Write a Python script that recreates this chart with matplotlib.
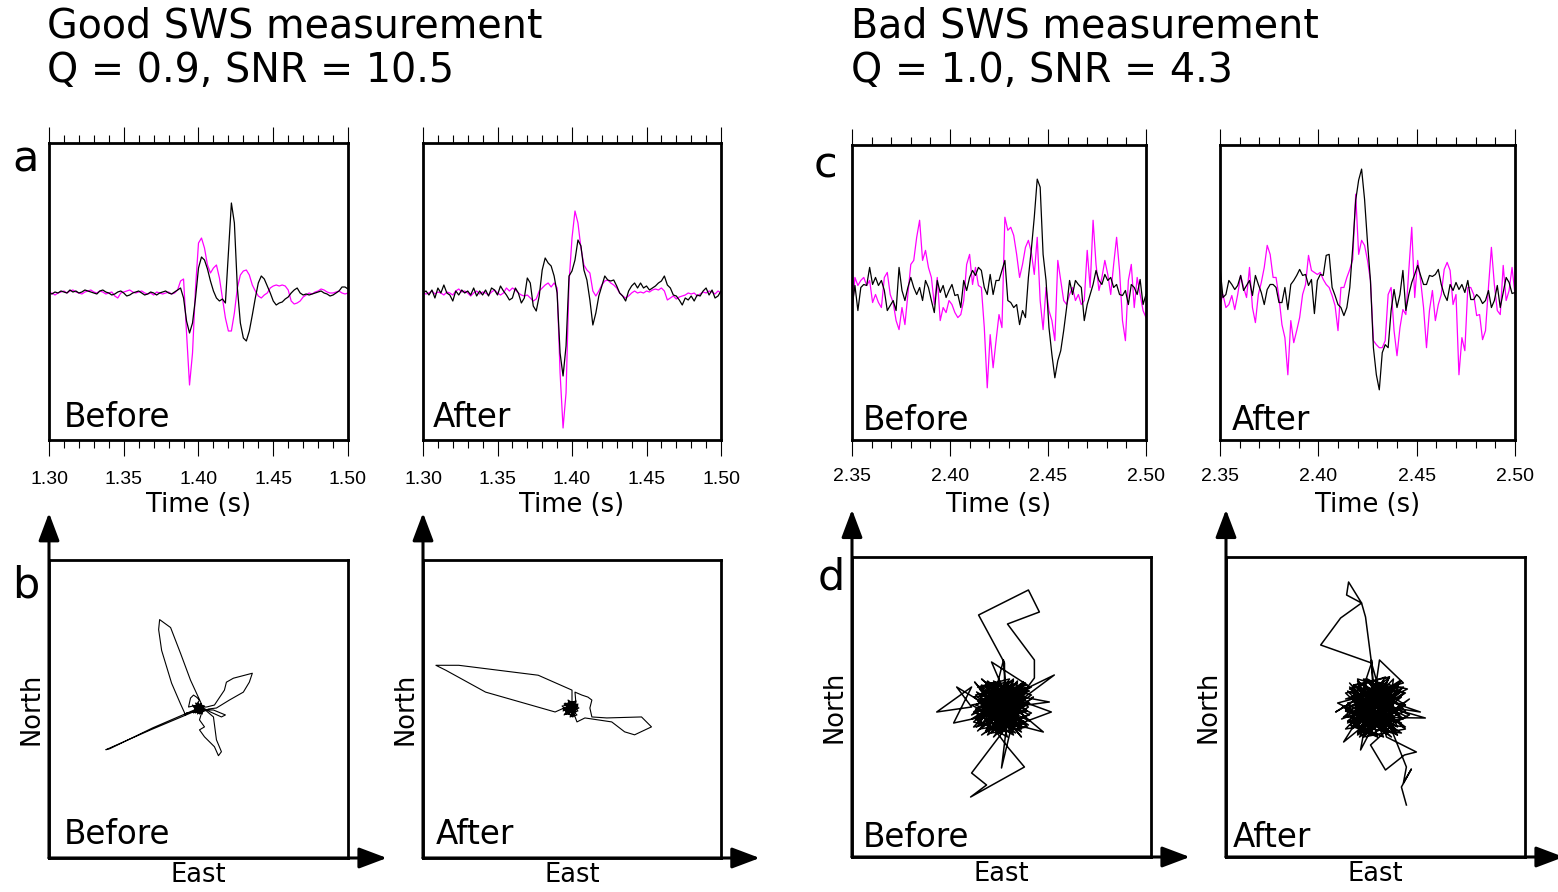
import numpy as np
import matplotlib
matplotlib.use("Agg")
import matplotlib.pyplot as plt
from matplotlib.ticker import MultipleLocator

# ---------------- data ----------------
# good measurement, 2 ms samples from 1.30 to 1.50 s (amplitudes in counts)
time_good = np.linspace(1.30, 1.50, 101)
good_before_fast = [-1, 0, -2, 0, 1, 2, 0, 2, 3, 1, 0, -1, 1, 2, 3, 1, 0, 2, 1, -1,
                    0, 1, -3, -5, 0, 1, 2, 3, 1, 0, 1, 2, 0, -1, 0, -2, 1, 0, -1, 0,
                    1, -1, 0, 3, 12, 14, -40, -92, -60, 5, 50, 55, 45, 28, 20, 25, 28, 15, -5, -25,
                    -38, -38, -20, 5, 18, 22, 23, 18, 8, 2, -3, -5, -2, 0, 5, 7, 8, 7, 8, 7,
                    3, -8, -11, -10, -8, -4, -2, 0, -1, 1, 2, 4, 3, 1, 0, 0, 1, 2, 0, -1, 0]
good_before_slow = [0, -1, 1, 0, 2, 1, 0, 3, 1, 2, 0, 1, 3, 2, 1, 0, -1, 2, 3, 1,
                    0, -2, -1, 1, 2, 0, -3, -2, 0, 1, 2, 0, -2, -1, 1, 0, -2, 0, 1, 2,
                    0, -1, 1, 3, 5, -5, -28, -40, -30, -5, 25, 36, 33, 24, 12, 2, -5, -8, -6, -10,
                    40, 90, 70, 5, -30, -45, -48, -38, -22, -5, 10, 17, 14, 7, 0, -8, -12, -10, -9, -6,
                    -4, 0, 3, 5, 0, -2, -1, -2, -1, 0, 1, 2, 0, -1, -3, -2, 0, 2, 6, 6, 4]
good_after_fast = [0, -1, 0, 2, -1, 1, 0, -2, 1, 0, -2, 2, 4, 1, 2, 0, -3, 0, 2, -1,
                   1, 0, -2, 1, 3, 0, -2, 0, 5, 2, 5, 3, 0, -2, -3, -2, -5, -8, -6, 2,
                   5, 8, 10, 6, 10, 5, -80, -135, -100, 10, 55, 82, 70, 45, 28, 23, 20, 2, -3, 2,
                   8, 12, 13, 10, 8, 5, 0, -3, -5, -3, 0, 2, 0, 1, 0, 2, 1, 3, 4, 3,
                   5, 2, -7, -5, -3, -6, -4, -3, -2, 0, -1, 0, -3, -1, 1, 0, 2, 1, -1, 2, 0]
good_after_slow = [0, 2, -2, 3, -5, 5, 0, 8, 0, -2, -8, 2, -2, 3, 0, 2, -2, 5, -3, 2,
                   -2, 3, -3, 5, 3, -2, 7, 2, -2, -7, -5, 5, 0, -10, -5, 15, 10, -13, -18, -3,
                   23, 35, 30, 27, 17, 0, -60, -83, -53, 17, 22, 33, 53, 47, 23, 13, -7, -32, -20, -3,
                   7, 17, 13, 12, 13, 7, 0, -3, -8, 2, 7, 10, 5, 10, 5, 7, 3, 5, 7, 10,
                   12, 17, 8, 5, -2, -3, -7, -12, -5, -7, -3, -8, -2, -3, 2, 5, -2, 3, -5, -3, 2]

# bad measurement, 1.5 ms samples from 2.35 to 2.50 s
time_bad = np.linspace(2.35, 2.50, 101)
bad_before_fast = [-19, 16, 8, 13, 16, 8, 13, -9, -1, -9, -14, 16, 21, -1, -9, -27, -36, -14, -31, -1,
                   29, 33, 56, 73, 33, 43, 26, 16, -11, 16, -27, -14, -19, -7, -11, -19, -24, -21, -7, 29,
                   39, 9, 26, 8, 6, -34, -94, -41, -74, -47, -21, -34, 76, 63, 66, 58, 39, 16, 29, 46,
                   53, 41, 19, 56, -7, -36, 6, -17, -27, -47, 33, 13, -7, -11, -1, 6, -7, -1, -11, -7,
                   43, 6, 73, 29, 3, 16, 33, 19, -1, 29, 56, 23, -27, -47, 13, 29, -14, 16, -1, -17, -24]
bad_before_slow = [-14, 8, -17, 6, 9, 8, 26, 9, 16, 8, 13, 3, -17, -12, -7, -17, 26, 3, -7, 6,
                   16, 6, -1, 6, -7, 13, 6, -7, -19, 13, 1, 8, -4, 3, 9, -2, -1, -14, 13, 3,
                   16, 23, 18, 26, 23, 6, -1, 19, -1, 13, 13, 23, 33, -7, -9, -14, -11, -31, -17, -24,
                   16, 44, 76, 114, 106, 39, 13, -34, -61, -84, -67, -57, -37, -14, 13, -1, 13, 9, 6, -27,
                   -11, -1, 9, 23, 13, 9, 19, 13, 16, 6, 9, -1, -2, 3, -11, 9, 6, -1, 14, -11, -1]
bad_after_fast = [-12, -2, -15, -12, -3, -17, -2, 17, 5, -5, 25, -15, -30, -2, 10, 25, 47, 38, 15, 15,
                  -5, -32, -45, -82, -28, -50, -38, -25, -2, 8, 37, 22, 20, 18, 20, 13, 8, 5, -3, -13,
                  -38, 5, 5, 15, 23, 33, 98, 38, 52, 47, 32, 12, -48, -52, -55, -55, -48, -2, 5, -38,
                  -63, -35, -17, -22, 22, 65, -5, 32, 12, -15, -55, -18, 2, -28, -12, -2, 23, 30, 22, -12,
                  -2, -82, -45, -58, 5, 5, -2, -23, -22, -47, -38, 5, 45, 8, -18, -22, 27, -8, 2, 25, -2]
bad_after_slow = [25, -5, -2, 12, 8, 3, 7, 17, 2, 7, 12, -3, 17, 8, 0, -12, 3, 8, 8, 5,
                  -10, -10, 5, -17, 8, 12, 17, 23, 17, 18, 7, 13, -21, 12, 18, 17, 37, 38, 5, -3,
                  -12, -15, -23, -15, 5, 45, 92, 112, 123, 93, 50, 12, -55, -82, -97, -60, -52, -55, -18, 3,
                  -15, -2, 22, -18, -2, 10, 18, 27, 17, 8, 8, 17, 16, 18, 23, 8, -2, -8, 8, 2,
                  10, 3, 8, 0, 12, -7, -7, -2, -5, -11, -8, 2, -15, -8, 7, -15, 0, 15, 10, -1, 0]

ticks_good = [1.30, 1.35, 1.40, 1.45, 1.50]
ticks_bad = [2.35, 2.40, 2.45, 2.50]

# particle motion (east, north) pairs
pm_good_before = [(0, 1), (3, -2), (-2, 4), (4, 3), (-4, -1), (2, -4), (-1, 5), (5, 0), (-3, -3), (1, 3),
                  (-5, 2), (3, -3), (0, 6), (-2, -2), (4, 2), (-3, -2), (-48, -21), (-93, -41), (-89, -40),
                  (-46, -19), (-2, 0), (3, 3), (-4, 1), (2, -3), (-1, 4), (-10, 2), (-8, 11), (-5, 14),
                  (-2, 12), (1, 9), (-3, 3), (3, 5), (-8, 29), (-18, 56), (-28, 82), (-39, 90), (-40, 80),
                  (-37, 59), (-27, 26), (-18, 5), (-13, -6), (-12, -4), (-5, -3), (2, 2), (-3, -4), (5, 1),
                  (-1, -2), (3, 5), (-4, 3), (6, -1), (1, -5), (-2, 2), (8, 2), (16, 4), (26, 19), (28, 27),
                  (35, 31), (54, 36), (51, 27), (45, 17), (31, 9), (18, 1), (10, 0), (4, -3), (-3, 2), (2, 4),
                  (-5, -2), (1, -1), (15, -1), (27, -6), (23, -8), (12, -3), (3, 2), (-2, -3), (4, -1),
                  (1, -11), (6, -18), (1, -21), (6, -28), (11, -33), (16, -38), (20, -47), (23, -43),
                  (18, -31), (15, -8), (8, -2), (-3, 3), (2, -2), (-4, -3), (3, 1), (-1, 4), (5, -2),
                  (-2, 0), (-6, 4), (4, -5), (-3, 6), (6, 3), (-5, -4), (2, 5), (-1, -5), (5, 2), (0, 2)]
pm_good_after = [(-2, 2), (3, -4), (-8, 5), (4, 8), (-6, -3), (1, -8), (-9, 0), (6, 3), (-4, 9), (2, -6),
                 (-7, -5), (5, 0), (0, 6), (0, 19), (-34, 34), (-114, 44), (-137, 44), (-127, 39), (-87, 17),
                 (-17, -3), (-8, 1), (3, 4), (-5, -4), (6, -2), (-3, 7), (0, -7), (-10, 3), (4, 5), (3, 17),
                 (10, 14), (16, 12), (20, 9), (18, 1), (20, -8), (35, -9), (70, -8), (80, -18), (63, -26),
                 (53, -23), (40, -13), (13, -9), (5, -13), (2, -5), (-6, 2), (4, -3), (-3, 6), (7, 1),
                 (-8, -6), (0, 4), (-4, -2), (2, 1), (-7, 6), (5, -6), (-2, -8), (6, 5), (-9, -2), (1, 7),
                 (-5, 1), (3, -2)]
pm_bad_before = [(0, 0), (15, -12), (-20, 8), (25, 18), (-10, -25), (5, 22), (-28, -5), (18, -20), (-15, 15),
                 (22, 5), (-5, -18), (28, -8), (-24, 20), (8, 28), (-18, -15), (12, 10), (-30, 2), (20, -25),
                 (-8, 12), (26, 22), (-10, 45), (5, 10), (2, 47), (-12, -8), (14, -16), (-22, -22), (30, 12),
                 (-16, 25), (6, -30), (-26, -12), (19, 20), (-3, -6), (24, -15), (-20, 5), (-45, 20), (-30, 0),
                 (-65, -5), (-30, 20), (-48, -16), (-20, -10), (10, 18), (-14, -28), (27, 0), (-6, 24), (16, -8),
                 (-25, 15), (9, -22), (22, 25), (-18, -3), (3, 15), (3, 44), (-23, 92), (27, 117), (38, 95),
                 (6, 83), (33, 47), (33, 29), (15, 5), (-22, -18), (28, 20), (-12, 8), (20, -30), (-27, 25),
                 (5, -12), (32, 10), (-15, -25), (12, 28), (-30, -8), (53, 32), (10, 0), (48, 5), (-5, 15),
                 (50, -5), (15, -18), (42, -25), (0, 10), (-20, 28), (18, -5), (-8, -30), (25, 15), (-25, -20),
                 (8, 25), (-12, -12), (27, -18), (-5, 5), (20, 22), (0, -61), (5, -20), (-30, -66), (-15, -78),
                 (-31, -90), (23, -60), (7, -41), (-5, -25), (-22, 12), (16, 24), (-28, -15), (10, -25), (22, 8),
                 (-15, 20), (4, -10), (-20, -28), (28, 4), (-8, 26), (14, -14), (-26, 2), (6, 18), (20, -22),
                 (-12, -5), (30, 20), (-18, 14), (2, -2), (-24, -24), (18, 16), (-6, -14), (26, -4), (-14, 26),
                 (10, -18), (-28, 10), (22, 14), (-2, -26), (-20, 22), (16, 2), (-10, -20), (24, 24), (-26, -6),
                 (12, -28), (-4, 16), (28, -14), (-16, 8), (6, 2),
                 (-14, -18), (20, 12), (-24, 6), (8, -22), (16, 26), (-28, -20), (24, -10), (-6, 18), (12, -6),
                 (-20, -6), (28, 16), (-10, 24), (4, -16), (-22, 18), (18, -14), (-2, 8), (26, 4), (-16, -24),
                 (10, 20), (-26, 12), (14, -26), (-8, -10), (22, 24), (-18, 0), (6, -4), (-12, 14), (30, -6),
                 (-4, -24), (16, 10), (-24, -14), (2, 22), (20, -18), (-14, 4), (8, 12), (-30, -12), (24, 8),
                 (-6, -16), (12, 26), (-20, 20), (18, -2), (0, -14), (-26, -2), (10, 8), (-10, -26), (26, -20),
                 (-16, 16), (4, 2), (22, -8), (-8, 20), (14, -20), (-2, 0)]
pm_bad_after = [(0, 0), (18, -10), (-22, 12), (28, 20), (-14, -24), (8, 26), (-30, -4), (20, -22), (-12, 16),
                (26, 2), (-6, -20), (32, -10), (-26, 18), (10, 30), (-20, -16), (14, 8), (-33, 0), (22, -28),
                (-10, 14), (28, 24), (4, 47), (-2, 5), (-4, 47), (0, -8), (15, -18), (-24, -20), (30, 14),
                (-18, 28), (8, -30), (-28, -14), (20, 22), (-4, -4), (26, -16), (-22, 6), (-40, -5), (-15, 10),
                (-38, 4), (-10, -10), (12, 20), (-16, -30), (30, 2), (-8, 26), (18, -6), (-28, 16), (10, -24),
                (24, 26), (-20, -2), (4, 16), (-4, 44), (-55, 62), (-35, 89), (-14, 104), (-29, 112), (-27, 125),
                (-14, 104), (-10, 90), (-4, 44), (-24, -16), (26, 18), (-14, 6), (22, -28), (-26, 24), (6, -14),
                (34, 8), (-16, -26), (14, 30), (-32, -10), (50, -11), (12, 0), (45, -5), (-5, 12), (-15, -43),
                (5, -5), (-32, -35), (-10, 0), (-18, 26), (20, -4), (-10, -28), (28, 14), (-24, -22), (10, 24),
                (-14, -14), (30, -20), (-6, 6), (22, 20), (-20, 10), (16, -26), (-30, -2), (8, 14), (24, -8),
                (-12, 22), (2, -30), (-26, -18), (18, 4), (-22, 22), (14, -12), (-8, 28), (30, -4), (-18, -26),
                (6, 20), (-30, 8), (20, 16), (-4, -22), (26, -26), (-16, 2),
                (-16, -20), (24, 14), (-28, 4), (10, -26), (18, 28), (-30, -22), (28, -12), (-8, 20), (14, -4),
                (-22, -8), (32, 18), (-12, 28), (6, -18), (-26, 20), (20, -16), (-4, 10), (30, 2), (-18, -28),
                (12, 22), (-30, 14), (16, -30), (-10, -12), (26, 26), (-20, -2), (8, -6), (-14, 16), (34, -8),
                (-6, -28), (18, 12), (-28, -16), (4, 24), (22, -20), (-16, 6), (10, 14), (-34, -12), (26, 10),
                (-8, -18), (14, 30), (-22, 22), (20, -4), (2, -16), (-30, -4), (12, 10), (-12, -30), (30, -22),
                (-18, 18), (6, 4), (24, -10), (-10, 22), (16, -22), (0, 10),
                (11, -30), (41, -45), (29, -48), (10, -63), (-5, -38), (15, -20), (31, -60), (28, -76),
                (36, -62), (26, -80), (31, -98)]

MAGENTA = "#ff00ff"


def fig_rect(left, top, right, bottom):
    # pixel box of the reference -> figure fraction
    return [left / 1558, 1 - bottom / 892, (right - left) / 1558, (bottom - top) / 892]


def style_box(ax):
    for spine in ax.spines.values():
        spine.set_linewidth(2.0)


def plot_traces(ax, t, fast, slow, ticks, ylim, label, label_x, label_y, tick_pad, xlabel_y):
    ax.plot(t, fast, color=MAGENTA, lw=0.9)
    ax.plot(t, slow, color="black", lw=0.9)
    ax.set_xlim(ticks[0], ticks[-1])
    ax.set_ylim(*ylim)
    ax.set_yticks([])
    ax.set_xticks(ticks)
    ax.set_xticklabels([f"{v:.2f}" for v in ticks], fontfamily="Liberation Sans", fontsize=14)
    ax.xaxis.set_minor_locator(MultipleLocator(0.01))
    ax.tick_params(axis="x", which="both", direction="out", top=True, bottom=True,
                   labeltop=False, width=0.8, pad=tick_pad)
    ax.tick_params(axis="x", which="major", length=11.5)
    ax.tick_params(axis="x", which="minor", length=6)
    style_box(ax)
    ax.text(label_x, label_y, label, transform=ax.transAxes, fontsize=23.5, va="baseline")
    ax.text(0.5, xlabel_y, "Time (s)", transform=ax.transAxes, fontsize=18.5,
            ha="center", va="baseline")


def plot_motion(ax, pairs, label, label_x, label_y, lw):
    east = [p[0] for p in pairs]
    north = [p[1] for p in pairs]
    ax.plot(east, north, color="black", lw=lw)
    ax.set_xlim(-150, 150)
    ax.set_ylim(-150, 150)
    ax.set_xticks([])
    ax.set_yticks([])
    style_box(ax)
    arrow = dict(arrowstyle="-|>,head_length=0.85,head_width=0.32", lw=2.2, color="black",
                 shrinkA=0, shrinkB=0, mutation_scale=20)
    ax.annotate("", xy=(0, 1.158), xytext=(0, 0), xycoords="axes fraction",
                arrowprops=arrow, annotation_clip=False)
    ax.annotate("", xy=(1.13, 0), xytext=(0, 0), xycoords="axes fraction",
                arrowprops=arrow, annotation_clip=False)
    ax.text(label_x, label_y, label, transform=ax.transAxes, fontsize=23.5, va="baseline")
    ax.text(-0.058, 0.5, "North", transform=ax.transAxes, fontsize=18.5, rotation=90,
            ha="center", va="center")
    ax.text(0.5, -0.058, "East", transform=ax.transAxes, fontsize=18.5,
            ha="center", va="center")


fig = plt.figure(figsize=(15.58, 8.92), dpi=100)

ax = fig.add_axes(fig_rect(49, 143, 348, 440))
plot_traces(ax, time_good, good_before_fast, good_before_slow, ticks_good, (-147, 150),
            "Before", 0.05, 0.045, 11, -0.242)
ax = fig.add_axes(fig_rect(423, 143, 721, 440))
plot_traces(ax, time_good, good_after_fast, good_after_slow, ticks_good, (-147, 150),
            "After", 0.033, 0.045, 11, -0.242)
ax = fig.add_axes(fig_rect(852, 145, 1146, 440))
plot_traces(ax, time_bad, bad_before_fast, bad_before_slow, ticks_bad, (-146, 148),
            "Before", 0.037, 0.034, 9, -0.245)
ax = fig.add_axes(fig_rect(1220, 145, 1515, 440))
plot_traces(ax, time_bad, bad_after_fast, bad_after_slow, ticks_bad, (-147, 147),
            "After", 0.04, 0.034, 9, -0.245)

ax = fig.add_axes(fig_rect(49, 560, 348, 858))
plot_motion(ax, pm_good_before, "Before", 0.05, 0.047, 0.8)
ax = fig.add_axes(fig_rect(423, 560, 721, 858))
plot_motion(ax, pm_good_after, "After", 0.043, 0.047, 0.8)
ax = fig.add_axes(fig_rect(852, 557, 1151, 857))
plot_motion(ax, pm_bad_before, "Before", 0.037, 0.033, 1.1)
ax = fig.add_axes(fig_rect(1226, 557, 1525, 857))
plot_motion(ax, pm_bad_after, "After", 0.023, 0.033, 1.1)

# headings
fig.text(47 / 1558, 1 - 37 / 892, "Good SWS measurement", fontsize=28.5, va="baseline")
fig.text(47 / 1558, 1 - 82 / 892, "Q = 0.9, SNR = 10.5", fontsize=28.5, va="baseline")
fig.text(851 / 1558, 1 - 37 / 892, "Bad SWS measurement", fontsize=28.5, va="baseline")
fig.text(851 / 1558, 1 - 82 / 892, "Q = 1.0, SNR = 4.3", fontsize=28.5, va="baseline")

# panel letters
fig.text(12 / 1558, 1 - 172 / 892, "a", fontsize=31, va="baseline")
fig.text(12 / 1558, 1 - 597 / 892, "b", fontsize=31, va="baseline")
fig.text(814 / 1558, 1 - 177 / 892, "c", fontsize=31, va="baseline")
fig.text(818 / 1558, 1 - 589 / 892, "d", fontsize=31, va="baseline")

fig.savefig("out.png", dpi=100)
plt.close()
